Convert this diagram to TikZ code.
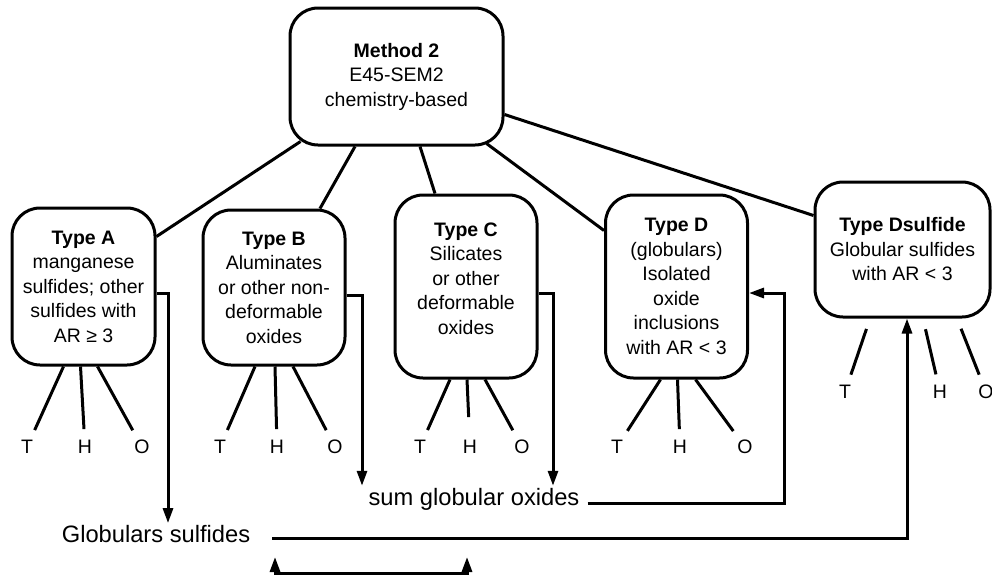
\documentclass[tikz,border=0pt]{standalone}
\usepackage{fontspec}
\setmainfont{Liberation Sans}
\usetikzlibrary{positioning, calc, arrows.meta}

\newcommand{\boxfont}{\fontsize{19.5}{24.5}\selectfont}
\newcommand{\labelfont}{\fontsize{23.7}{28}\selectfont}

\begin{document}
\begin{tikzpicture}[
  x=1pt, y=-1pt,
  % Classification boxes
  typeBox/.style={draw, rounded corners=28pt, line width=3pt, align=center, font=\boxfont},
  % T / H / O labels and their legs
  thoLabel/.style={inner sep=0pt, font=\boxfont},
  leg/.style={line width=3pt, shorten >=11pt},
  % Connectors
  link/.style={line width=3pt},
  flow/.style={line width=3pt, -{Triangle[length=15pt, width=10pt]}},
  sumLabel/.style={inner sep=2pt, font=\labelfont}
  ]
  \useasboundingbox (0,0) rectangle (992,576);

  % --- Method and inclusion types ---
  \node[typeBox, minimum width=213pt, minimum height=137pt] (M2) at (396.5,76.5)
  {\textbf{Method 2}\\E45-SEM2\\chemistry-based};

  \node[typeBox, minimum width=143pt, minimum height=157pt] (TA) at (83.5,286.5)
  {\textbf{Type A}\\manganese\\sulfides; other\\sulfides with\\AR ≥ 3};
  \node[typeBox, minimum width=142pt, minimum height=155pt] (TB) at (274,287.5)
  {\textbf{Type B}\\Aluminates\\or other non-\\deformable\\oxides};
  \node[typeBox, minimum width=142pt, minimum height=183pt] (TC) at (466,286.5)
  {\textbf{Type C}\\Silicates\\or other\\deformable\\oxides\\[-8pt]};
  \node[typeBox, minimum width=142pt, minimum height=183pt] (TD) at (676.5,286.5)
  {\textbf{Type D}\\(globulars)\\Isolated\\oxide\\inclusions\\with AR < 3};
  \node[typeBox, minimum width=175pt, minimum height=135pt] (TDs) at (902.5,249.5)
  {\textbf{Type Dsulfide}\\Globular sulfides\\with AR < 3};

  % Wiring method to types
  \draw[link] ($(M2.south west)+(12,-5)$) -- ($(TA.north east)+(0,30)$);
  \draw[link] ($(M2.south)+(-41.5,0)$) -- ($(TB.north)+(46,0)$);
  \draw[link] ($(M2.south)+(23.5,0)$) -- ($(TC.north)+(-31,0)$);
  \draw[link] ($(M2.south east)+(-18,-3)$) -- ($(TD.north west)+(0,37)$);
  \draw[link] ($(M2.south east)+(0,-32)$) -- ($(TDs.north west)+(0,35)$);

  % --- Thin / Heavy / Oversize ---
  \node[thoLabel] (AT) at (27,447) {T};
  \node[thoLabel] (AH) at (85,447) {H};
  \node[thoLabel] (AO) at (142,447) {O};
  \draw[leg] ($(TA.south)+(-20,0)$) -- (AT);
  \draw[leg] ($(TA.south)+(-3,0)$) -- (AH);
  \draw[leg] ($(TA.south)+(14,0)$) -- (AO);

  \node[thoLabel] (BT) at (220,447) {T};
  \node[thoLabel] (BH) at (277,447) {H};
  \node[thoLabel] (BO) at (335,447) {O};
  \draw[leg] ($(TB.south)+(-19,0)$) -- (BT);
  \draw[leg] ($(TB.south)+(1,0)$) -- (BH);
  \draw[leg] ($(TB.south)+(19,0)$) -- (BO);

  \node[thoLabel] (CT) at (420,447) {T};
  \node[thoLabel] (CH) at (470,447) {H};
  \node[thoLabel] (CO) at (522,447) {O};
  \draw[leg] ($(TC.south)+(-16,0)$) -- (CT);
  \draw[leg, shorten >=23pt] ($(TC.south)+(1,0)$) -- (CH);
  \draw[leg] ($(TC.south)+(19,0)$) -- (CO);

  \node[thoLabel] (DT) at (617,447) {T};
  \node[thoLabel] (DH) at (680,447) {H};
  \node[thoLabel] (DO) at (745,447) {O};
  \draw[leg] ($(TD.south)+(-16,0)$) -- (DT);
  \draw[leg] ($(TD.south)+(1,0)$) -- (DH);
  \draw[leg] ($(TD.south)+(19,0)$) -- (DO);

  \node[thoLabel] (DsT) at (845,392) {T};
  \node[thoLabel] (DsH) at (940,392) {H};
  \node[thoLabel] (DsO) at (986,392) {O};
  \draw[leg, shorten <=11pt] ($(TDs.south)+(-32.5,0)$) -- (DsT);
  \draw[leg, shorten <=11pt] ($(TDs.south)+(20.5,0)$) -- (DsH);
  \draw[leg, shorten <=11pt] ($(TDs.south)+(54.5,0)$) -- (DsO);

  % --- Sums ---
  \node[sumLabel] (GS) at (156,534) {Globulars sulfides};
  \node[sumLabel] (SGO) at (474,499) {sum globular oxides};

  \draw[flow] ($(TA.east)+(0,6.5)$) -| ($(GS.north)+(12,0)$);
  \draw[flow] ($(TB.east)+(0,7.5)$) -| ($(SGO.north)+(-112,0)$);
  \draw[flow] ($(TC.east)+(0,6.5)$) -| ($(SGO.north)+(79,0)$);
  \draw[flow] ($(SGO.east)+(6,4)$) -| ($(TD.east)+(35,6.5)$) -- ($(TD.east)+(0,6.5)$);
  \draw[flow] ($(GS.east)+(20,4)$) -| ($(TDs.south)+(4.5,0)$);

  % Bracket under the sums
  \coordinate (sumL) at (275,557);
  \coordinate (sumR) at (467,557);
  \draw[line width=3pt, {Triangle[length=15pt, width=10pt]}-{Triangle[length=15pt, width=10pt]}]
  (sumL) -- ++(0,16) -| (sumR);

\end{tikzpicture}
\end{document}
